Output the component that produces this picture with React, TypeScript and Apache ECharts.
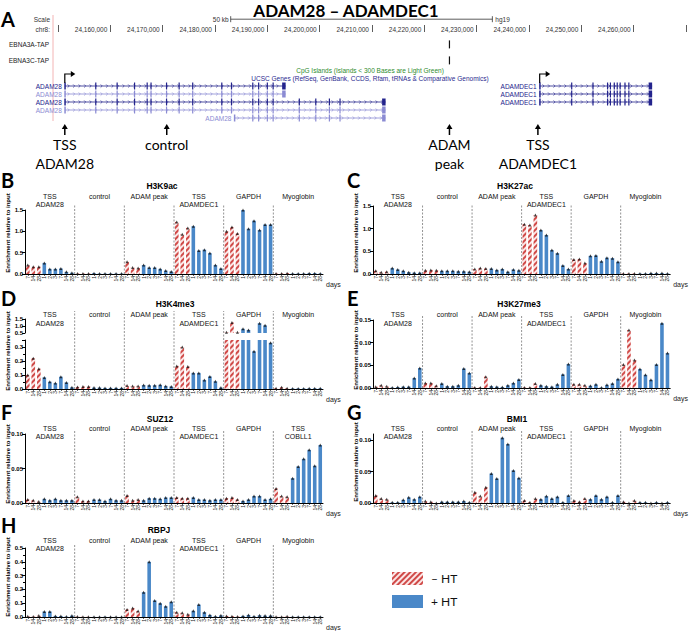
import React, { useEffect, useRef } from 'react';
import * as echarts from 'echarts';

const SANS = '"Liberation Sans", Arial, sans-serif';
const CAL = 'Lato, "Open Sans", sans-serif';

// ---------------- Panel A: genome browser data ----------------
const RULER_MIN = 24150000;
const RULER_MAX = 24270000;
const RULER_STEP = 10000;
const RULER_FIRST_LABEL = 24160000;
const RULER_LAST_LABEL = 24260000;
const SCALE_BAR = [24183000, 24233000];
const SCALE_LABEL = '50 kb';
const ASSEMBLY = 'hg19';
const TRACKS = ['EBNA3A-TAP', 'EBNA3C-TAP'];
const EBNA_PEAKS = [24224800];
const ADAM28_TSS = 24151300;
const ADAM28_ALT_START = 24183700;
const ADAM28_SHORT_END = 24193500;
const ADAM28_LONG_END = 24212600;
const ADAM28_EXONS = [24157220, 24161300, 24164630, 24167040, 24167780, 24170740, 24173150, 24175740, 24181300, 24183150, 24187220, 24188340, 24190000, 24191110];
const ADAM28_EXTRA_EXONS = [24196110, 24199260, 24201860, 24203890];
const ADAMDEC1_TSS = 24242040;
const ADAMDEC1_END = 24263530;
const ADAMDEC1_EXONS = [24248160, 24252230, 24255010, 24255560, 24256300, 24256860, 24257420, 24258340, 24259080];
const TRANSCRIPTS = [
  { name: 'ADAM28', row: 0, start: ADAM28_TSS, end: ADAM28_SHORT_END, strong: true, tss: true },
  { name: 'ADAM28', row: 1, start: ADAM28_TSS, end: ADAM28_SHORT_END, strong: false },
  { name: 'ADAM28', row: 2, start: ADAM28_TSS, end: ADAM28_LONG_END, strong: true },
  { name: 'ADAM28', row: 3, start: ADAM28_TSS, end: ADAM28_LONG_END, strong: false },
  { name: 'ADAM28', row: 4, start: ADAM28_ALT_START, end: ADAM28_LONG_END, strong: false },
  { name: 'ADAMDEC1', row: 0, start: ADAMDEC1_TSS, end: ADAMDEC1_END, strong: true, tss: true },
  { name: 'ADAMDEC1', row: 1, start: ADAMDEC1_TSS, end: ADAMDEC1_END, strong: true },
  { name: 'ADAMDEC1', row: 2, start: ADAMDEC1_TSS, end: ADAMDEC1_END, strong: true },
];
const LANDMARKS = [
  { pos: 24151300, label: 'TSS\nADAM28' },
  { pos: 24170780, label: 'control' },
  { pos: 24224800, label: 'ADAM\npeak' },
  { pos: 24241700, label: 'TSS\nADAMDEC1' },
];

// ---------------- Panels B–H: ChIP data ----------------
const GROUPS = ['TSS\nADAM28', 'control', 'ADAM peak', 'TSS\nADAMDEC1', 'GAPDH', 'Myoglobin'];
const GROUPS_SUZ12 = ['TSS\nADAM28', 'control', 'ADAM peak', 'TSS\nADAMDEC1', 'GAPDH', 'TSS\nCOBLL1'];
const DAYS = ['7', '14', '28', '1', '2', '3', '7', '14', '28'];
const MINUS_HT_COUNT = 3;
const CATEGORY_LABELS = GROUPS.flatMap(() => DAYS);

const H3K9ac = [
  0.21, 0.17, 0.17, 0.26, 0.12, 0.12, 0.13, 0.05, 0.03,
  0.01, 0.01, 0.01, 0.02, 0.01, 0.01, 0.01, 0.01, 0.01,
  0.29, 0.15, 0.14, 0.21, 0.15, 0.15, 0.12, 0.08, 0.06,
  1.22, 0.93, 1.08, 1.12, 0.55, 0.57, 0.49, 0.21, 0.13,
  1.00, 1.10, 0.95, 1.50, 1.06, 1.25, 1.03, 1.16, 1.16,
  0.01, 0.01, 0.02, 0.01, 0.01, 0.01, 0.02, 0.02, 0.01,
];
const H3K27ac = [
  0.07, 0.04, 0.05, 0.13, 0.10, 0.07, 0.04, 0.03, 0.03,
  0.08, 0.09, 0.08, 0.07, 0.07, 0.07, 0.06, 0.06, 0.05,
  0.11, 0.13, 0.12, 0.12, 0.09, 0.11, 0.05, 0.10, 0.08,
  1.10, 1.08, 1.30, 0.97, 0.86, 0.53, 0.46, 0.19, 0.11,
  0.32, 0.33, 0.24, 0.40, 0.41, 0.28, 0.36, 0.35, 0.27,
  0.01, 0.01, 0.01, 0.01, 0.01, 0.02, 0.02, 0.02, 0.01,
];
const H3K4me3 = [
  0.10, 0.22, 0.145, 0.083, 0.052, 0.042, 0.088, 0.047, 0.012,
  0.015, 0.018, 0.018, 0.010, 0.010, 0.008, 0.008, 0.008, 0.008,
  0.025, 0.022, 0.022, 0.028, 0.027, 0.027, 0.030, 0.022, 0.018,
  0.165, 0.30, 0.16, 0.115, 0.115, 0.065, 0.09, 0.055, 0.01,
  0.55, 1.25, 0.55, 0.80, 0.72, 0.27, 1.20, 1.05, 0.33,
  0.005, 0.012, 0.005, 0.004, 0.004, 0.004, 0.005, 0.005, 0.005,
];
const H3K27me3 = [
  0.003, 0.006, 0.004, 0.001, 0.002, 0.003, 0.003, 0.022, 0.044,
  0.011, 0.011, 0.005, 0.010, 0.004, 0.004, 0.006, 0.043, 0.033,
  0.001, 0.001, 0.025, 0.004, 0.003, 0.002, 0.006, 0.011, 0.019,
  0.001, 0.001, 0.010, 0.006, 0.004, 0.003, 0.008, 0.030, 0.053,
  0.008, 0.008, 0.006, 0.005, 0.008, 0.001, 0.007, 0.010, 0.020,
  0.052, 0.128, 0.062, 0.042, 0.029, 0.018, 0.052, 0.143, 0.077,
];
const SUZ12 = [
  0.005, 0.004, 0.002, 0.006, 0.004, 0.006, 0.004, 0.004, 0.004,
  0.009, 0.003, 0.003, 0.005, 0.005, 0.003, 0.006, 0.004, 0.004,
  0.011, 0.004, 0.005, 0.004, 0.007, 0.007, 0.006, 0.008, 0.008,
  0.008, 0.007, 0.007, 0.008, 0.005, 0.005, 0.004, 0.005, 0.005,
  0.007, 0.008, 0.005, 0.003, 0.005, 0.010, 0.010, 0.005, 0.006,
  0.021, 0.010, 0.009, 0.036, 0.053, 0.064, 0.077, 0.054, 0.084,
];
const BMI1 = [
  0.012, 0.007, 0.006, 0.001, 0.001, 0.005, 0.009, 0.006, 0.010,
  0.003, 0.002, 0.000, 0.002, 0.002, 0.002, 0.002, 0.003, 0.001,
  0.017, 0.011, 0.025, 0.047, 0.039, 0.104, 0.094, 0.052, 0.040,
  0.004, 0.001, 0.007, 0.006, 0.011, 0.007, 0.010, 0.001, 0.012,
  0.004, 0.002, 0.007, 0.006, 0.012, 0.006, 0.010, 0.001, 0.012,
  0.002, 0.000, 0.004, 0.001, 0.001, 0.000, 0.001, 0.000, 0.001,
];
const RBPJ = [
  0.005, 0.004, 0.010, 0.040, 0.040, 0.008, 0.007, 0.003, 0.010,
  0.004, 0.002, 0.002, 0.001, 0.001, 0.002, 0.001, 0.001, 0.001,
  0.055, 0.065, 0.043, 0.18, 0.40, 0.12, 0.10, 0.078, 0.11,
  0.035, 0.030, 0.020, 0.045, 0.090, 0.035, 0.015, 0.005, 0.012,
  0.008, 0.006, 0.003, 0.008, 0.015, 0.005, 0.012, 0.010, 0.010,
  0.002, 0.002, 0.005, 0.002, 0.002, 0.002, 0.002, 0.002, 0.002,
];

const COLS = [{ left: 25, width: 298 }, { left: 373, width: 298 }];
const PANELS: any[] = [
  { letter: 'B', title: 'H3K9ac', values: H3K9ac, groups: GROUPS, col: 0, top: 210, bottom: 274, max: 1.5, interval: 0.5, digits: 1, letterY: 180, titleX: 162, titleY: 186, labelTop: 192, lh: 8, sepTop: 204, nameY: 233 },
  { letter: 'C', title: 'H3K27ac', values: H3K27ac, groups: GROUPS, col: 1, top: 206, bottom: 274, max: 1.5, interval: 0.5, digits: 1, letterY: 180, titleX: 515, titleY: 186, labelTop: 192, lh: 8, sepTop: 204, nameY: 233 },
  { letter: 'D', title: 'H3K4me3', values: H3K4me3, groups: GROUPS, col: 0, top: 340, bottom: 389, max: 0.35, interval: 0.1, digits: 1, hideMax: true, minor: true, upper: { top: 319, bottom: 333, min: 0.5, max: 1.5, interval: 0.5 }, letterY: 298, titleX: 175, titleY: 304, labelTop: 310, lh: 9, sepTop: 311, nameY: 351 },
  { letter: 'E', title: 'H3K27me3', values: H3K27me3, groups: GROUPS, col: 1, top: 320, bottom: 388, max: 0.15, interval: 0.05, digits: 2, letterY: 298, titleX: 519, titleY: 304, labelTop: 310, lh: 9, sepTop: 316, nameY: 350 },
  { letter: 'F', title: 'SUZ12', values: SUZ12, groups: GROUPS_SUZ12, col: 0, top: 434, bottom: 503, max: 0.1, interval: 0.05, digits: 2, letterY: 412, titleX: 160, titleY: 419, labelTop: 425, lh: 7.5, sepTop: 430, nameY: 464 },
  { letter: 'G', title: 'BMI1', values: BMI1, groups: GROUPS, col: 1, top: 434, bottom: 503, max: 0.11, interval: 0.05, digits: 2, hideMax: true, letterY: 412, titleX: 517, titleY: 419, labelTop: 425, lh: 7.5, sepTop: 430, nameY: 462 },
  { letter: 'H', title: 'RBPJ', values: RBPJ, groups: GROUPS, col: 0, top: 548, bottom: 618, max: 0.5, interval: 0.1, digits: 1, minor: true, letterY: 525, titleX: 159, titleY: 530, labelTop: 537, lh: 7.5, sepTop: 545, nameY: 577 },
];

const HATCH = { symbol: 'rect', symbolSize: 1, dashArrayX: [1, 0], dashArrayY: [1.6, 1.6], rotation: -Math.PI / 4, color: '#d04a48' };
const RED_BG = '#fbe6e6';
const BLUE = '#4a88c8';

const GENE_ROW0 = 6.75;
const TRACK_ROW0 = 1.55;

function buildOption() {
  const grids: any[] = [];
  const xAxes: any[] = [];
  const yAxes: any[] = [];
  const series: any[] = [];
  const graphics: any[] = [];

  // ---- Panel A grid ----
  grids.push({ left: 58, top: 32, width: 648, height: 88 });
  xAxes.push({
    gridIndex: 0, type: 'value', min: RULER_MIN, max: RULER_MAX, interval: RULER_STEP, position: 'top',
    axisLine: { show: false },
    axisTick: { show: true, length: 7, lineStyle: { color: '#333', width: 0.8 } },
    axisLabel: {
      fontSize: 6.5, color: '#333', fontFamily: SANS, align: 'right', verticalAlign: 'middle', margin: 3, padding: [0, 3, 0, 0],
      formatter: (v: number) => (v >= RULER_FIRST_LABEL && v <= RULER_LAST_LABEL ? v.toLocaleString('en-US') : ''),
    },
    splitLine: { show: false },
  });
  yAxes.push({ gridIndex: 0, type: 'value', min: 0, max: 11, inverse: true, show: false });

  const allExons = [...ADAM28_EXONS, ...ADAM28_EXTRA_EXONS, ...ADAMDEC1_EXONS];
  series.push({
    type: 'custom', xAxisIndex: 0, yAxisIndex: 0, silent: true,
    data: TRANSCRIPTS.map((t) => [t.start, t.end]),
    renderItem: (params: any, api: any) => {
      const t: any = TRANSCRIPTS[params.dataIndex];
      const rv = GENE_ROW0 + t.row;
      const p0 = api.coord([t.start, rv]);
      const x0 = p0[0];
      const y = p0[1];
      const x1 = api.coord([t.end, rv])[0];
      const col = t.strong ? '#23238c' : '#8b8bd3';
      const ch: any[] = [];
      ch.push({ type: 'line', shape: { x1: x0, y1: y, x2: x1, y2: y }, style: { stroke: col, lineWidth: 0.8 } });
      for (let cx = x0 + 4; cx < x1 - 3; cx += 5.5) {
        ch.push({ type: 'polyline', shape: { points: [[cx - 1.2, y - 1.6], [cx + 0.4, y], [cx - 1.2, y + 1.6]] }, style: { stroke: col, fill: 'none', lineWidth: 0.6 } });
      }
      allExons.filter((e) => e > t.start && e < t.end).forEach((e) => {
        const ex = api.coord([e, rv])[0];
        ch.push({ type: 'rect', shape: { x: ex - 0.6, y: y - 3.5, width: 1.2, height: 7 }, style: { fill: col } });
      });
      ch.push({ type: 'rect', shape: { x: x0 - 0.5, y: y - 3.5, width: 1.5, height: 7 }, style: { fill: col } });
      ch.push({ type: 'rect', shape: { x: x1 - 3.5, y: y - 3.5, width: 3.5, height: 7 }, style: { fill: col } });
      ch.push({ type: 'text', x: x0 - 3, y: y, style: { text: t.name, font: `6.5px ${SANS}`, fill: col, align: 'right', verticalAlign: 'middle' } });
      if (t.tss) {
        ch.push({ type: 'polyline', shape: { points: [[x0, y - 3], [x0, y - 12], [x0 + 7, y - 12]] }, style: { stroke: '#000', fill: 'none', lineWidth: 1.2 } });
        ch.push({ type: 'polygon', shape: { points: [[x0 + 6, y - 15], [x0 + 10.5, y - 12], [x0 + 6, y - 9]] }, style: { fill: '#000' } });
      }
      return { type: 'group', children: ch };
    },
  });
  series.push({
    type: 'custom', xAxisIndex: 0, yAxisIndex: 0, silent: true,
    data: TRACKS.map((_, i) => [RULER_MIN, i]),
    renderItem: (params: any, api: any) => {
      const i = params.dataIndex;
      const rv = TRACK_ROW0 + i * 2;
      const pl = api.coord([RULER_MIN, rv]);
      const ch: any[] = [{ type: 'text', x: pl[0] - 9, y: pl[1], style: { text: TRACKS[i], font: `6.5px ${SANS}`, fill: '#222', align: 'right', verticalAlign: 'middle' } }];
      EBNA_PEAKS.forEach((pk) => {
        const pp = api.coord([pk, rv]);
        ch.push({ type: 'rect', shape: { x: pp[0] - 0.6, y: pp[1] - 4, width: 1.2, height: 8 }, style: { fill: '#111' } });
      });
      return { type: 'group', children: ch };
    },
  });
  series.push({
    type: 'custom', xAxisIndex: 0, yAxisIndex: 0, silent: true,
    data: [SCALE_BAR],
    renderItem: (params: any, api: any) => {
      const a = api.coord([SCALE_BAR[0], -1.6]);
      const b = api.coord([SCALE_BAR[1], -1.6]);
      return {
        type: 'group', children: [
          { type: 'line', shape: { x1: a[0], y1: a[1], x2: b[0], y2: b[1] }, style: { stroke: '#333', lineWidth: 0.8 } },
          { type: 'line', shape: { x1: a[0], y1: a[1] - 3, x2: a[0], y2: a[1] + 3 }, style: { stroke: '#333', lineWidth: 0.8 } },
          { type: 'line', shape: { x1: b[0], y1: b[1] - 3, x2: b[0], y2: b[1] + 3 }, style: { stroke: '#333', lineWidth: 0.8 } },
          { type: 'text', x: a[0] - 2, y: a[1], style: { text: SCALE_LABEL, font: `6.5px ${SANS}`, fill: '#333', align: 'right', verticalAlign: 'middle' } },
          { type: 'text', x: b[0] + 3, y: b[1], style: { text: ASSEMBLY, font: `6.5px ${SANS}`, fill: '#333', align: 'left', verticalAlign: 'middle' } },
        ],
      };
    },
  });
  series.push({
    type: 'custom', xAxisIndex: 0, yAxisIndex: 0, silent: true,
    data: LANDMARKS.map((l) => [l.pos, 11]),
    renderItem: (params: any, api: any) => {
      const l = LANDMARKS[params.dataIndex];
      const p = api.coord([l.pos, 11]);
      const x = p[0];
      const yb = p[1];
      return {
        type: 'group', children: [
          { type: 'line', shape: { x1: x, y1: yb + 8, x2: x, y2: yb + 15 }, style: { stroke: '#000', lineWidth: 1.5 } },
          { type: 'polygon', shape: { points: [[x - 3, yb + 9], [x, yb + 4], [x + 3, yb + 9]] }, style: { fill: '#000' } },
          { type: 'text', x: x, y: yb + 14.5, style: { text: l.label, font: `14px ${CAL}`, lineHeight: 19, fill: '#000', align: 'center', verticalAlign: 'top' } },
        ],
      };
    },
  });

  graphics.push(
    { type: 'text', x: 1, y: 19, style: { text: 'A', font: `bold 20px ${CAL}`, fill: '#000', verticalAlign: 'middle' } },
    { type: 'text', x: 346, y: 2, style: { text: 'ADAM28 – ADAMDEC1', font: `bold 17px ${CAL}`, fill: '#000', align: 'center', verticalAlign: 'top' } },
    { type: 'text', x: 50, y: 19, style: { text: 'Scale', font: `6.5px ${SANS}`, fill: '#333', align: 'right', verticalAlign: 'middle' } },
    { type: 'text', x: 50, y: 29, style: { text: 'chr8:', font: `6.5px ${SANS}`, fill: '#333', align: 'right', verticalAlign: 'middle' } },
    { type: 'line', shape: { x1: 53, y1: 15, x2: 53, y2: 121 }, style: { stroke: '#f3b4b4', lineWidth: 1 } },
    { type: 'text', x: 370, y: 70, style: { text: 'CpG Islands (Islands < 300 Bases are Light Green)', font: `6.5px ${SANS}`, fill: '#2e8b2e', align: 'center', verticalAlign: 'middle' } },
    { type: 'text', x: 370, y: 78, style: { text: 'UCSC Genes (RefSeq, GenBank, CCDS, Rfam, tRNAs & Comparative Genomics)', font: `6.5px ${SANS}`, fill: '#2a2a8f', align: 'center', verticalAlign: 'middle' } },
  );

  const groupStarts = GROUPS.slice(1).map((_, i) => [(i + 1) * DAYS.length]);
  const labelFmt = (digits: number) => (v: number) => v.toFixed(digits);

  PANELS.forEach((p) => {
    const col = COLS[p.col];
    const gi = grids.length;
    grids.push({ left: col.left, top: p.top, width: col.width, height: p.bottom - p.top });
    const xi = xAxes.length;
    xAxes.push({
      gridIndex: gi, type: 'category', data: CATEGORY_LABELS, position: 'bottom',
      axisLine: { lineStyle: { color: '#000', width: 1 } },
      axisTick: { show: true, length: 2, alignWithLabel: true, interval: 0, lineStyle: { color: '#000', width: 0.6 } },
      axisLabel: { interval: 0, rotate: 90, fontSize: 5, margin: 2, color: '#222', fontFamily: SANS },
      splitLine: { show: false },
      name: 'days', nameLocation: 'end', nameGap: 3,
      nameTextStyle: { fontSize: 7, color: '#222', fontFamily: SANS, verticalAlign: 'top', padding: [7, 0, 0, 0] },
    });
    xAxes.push({
      gridIndex: gi, type: 'category', data: p.groups, position: 'top',
      axisLine: { show: false }, axisTick: { show: false }, splitLine: { show: false },
      axisLabel: { interval: 0, fontSize: 7, lineHeight: p.lh, color: '#111', fontFamily: SANS, verticalAlign: 'top', margin: p.top - p.labelTop },
    });
    const yi = yAxes.length;
    const yLabel: any = { fontSize: 6, fontWeight: 'bold', color: '#000', fontFamily: SANS, margin: 2, formatter: labelFmt(p.digits) };
    if (p.hideMax) yLabel.showMaxLabel = false;
    yAxes.push({
      gridIndex: gi, type: 'value', min: 0, max: p.max, interval: p.interval,
      axisLine: { show: true, lineStyle: { color: '#000', width: 1 } },
      axisTick: { show: true, length: 3, lineStyle: { color: '#000' } },
      minorTick: { show: !!p.minor, splitNumber: 2, length: 2, lineStyle: { color: '#000' } },
      splitLine: { show: false },
      axisLabel: yLabel,
    });
    const minus = p.values.map((v: number, i: number) => (i % DAYS.length < MINUS_HT_COUNT ? v : '-'));
    const plus = p.values.map((v: number, i: number) => (i % DAYS.length >= MINUS_HT_COUNT ? v : '-'));
    series.push({ type: 'bar', name: '– HT', xAxisIndex: xi, yAxisIndex: yi, data: minus, barWidth: 3.6, barGap: '-100%', itemStyle: { color: RED_BG, decal: HATCH }, silent: true, z: 2 });
    series.push({ type: 'bar', name: '+ HT', xAxisIndex: xi, yAxisIndex: yi, data: plus, barWidth: 3.6, barGap: '-100%', itemStyle: { color: BLUE }, silent: true, z: 2 });
    series.push({ type: 'scatter', xAxisIndex: xi, yAxisIndex: yi, data: p.values.map((v: number) => (v <= p.max ? v : '-')), symbol: 'triangle', symbolSize: [3, 3], itemStyle: { color: '#111' }, silent: true, z: 3 });
    const sepTop = p.sepTop;
    series.push({
      type: 'custom', xAxisIndex: xi, yAxisIndex: yi, data: groupStarts, silent: true, z: 1,
      renderItem: (params: any, api: any) => {
        const start = api.value(0);
        const band = api.size([1, 0])[0];
        const pt = api.coord([start, 0]);
        const x = pt[0] - band / 2;
        return { type: 'line', shape: { x1: x, y1: pt[1], x2: x, y2: sepTop }, style: { stroke: '#777', lineWidth: 0.8, lineDash: [2, 1.5] } };
      },
    });
    if (p.upper) {
      const u = p.upper;
      const ug = grids.length;
      grids.push({ left: col.left, top: u.top, width: col.width, height: u.bottom - u.top });
      const ux = xAxes.length;
      xAxes.push({ gridIndex: ug, type: 'category', data: CATEGORY_LABELS, show: false });
      const uy = yAxes.length;
      yAxes.push({
        gridIndex: ug, type: 'value', min: u.min, max: u.max, interval: u.interval,
        axisLine: { show: true, lineStyle: { color: '#000', width: 1 } },
        axisTick: { show: true, length: 3, lineStyle: { color: '#000' } },
        splitLine: { show: false },
        axisLabel: { fontSize: 6, fontWeight: 'bold', color: '#000', fontFamily: SANS, margin: 2, formatter: labelFmt(1) },
      });
      const um = minus.map((v: any) => (v !== '-' && v >= u.min ? v : '-'));
      const up = plus.map((v: any) => (v !== '-' && v >= u.min ? v : '-'));
      series.push({ type: 'bar', name: '– HT', xAxisIndex: ux, yAxisIndex: uy, data: um, barWidth: 3.6, barGap: '-100%', itemStyle: { color: RED_BG, decal: HATCH }, silent: true, z: 2 });
      series.push({ type: 'bar', name: '+ HT', xAxisIndex: ux, yAxisIndex: uy, data: up, barWidth: 3.6, barGap: '-100%', itemStyle: { color: BLUE }, silent: true, z: 2 });
      series.push({ type: 'scatter', xAxisIndex: ux, yAxisIndex: uy, data: p.values.map((v: number) => (v >= u.min ? v : '-')), symbol: 'triangle', symbolSize: [3, 3], itemStyle: { color: '#111' }, silent: true, z: 3 });
    }
    graphics.push(
      { type: 'text', x: p.col === 0 ? 1 : 347, y: p.letterY, style: { text: p.letter, font: `bold 20px ${CAL}`, fill: '#000', verticalAlign: 'middle' } },
      { type: 'text', x: p.titleX, y: p.titleY, style: { text: p.title, font: `bold 8.5px ${SANS}`, fill: '#000', align: 'center', verticalAlign: 'middle' } },
      { type: 'text', x: col.left - 17, y: p.nameY, rotation: Math.PI / 2, style: { text: 'Enrichment relative to input', font: `bold 6px ${SANS}`, fill: '#000', align: 'center', verticalAlign: 'middle' } },
    );
  });

  return {
    animation: false,
    textStyle: { fontFamily: SANS },
    grid: grids,
    xAxis: xAxes,
    yAxis: yAxes,
    series,
    graphic: graphics,
    legend: {
      data: ['– HT', '+ HT'], orient: 'vertical', left: 387, top: 567, itemWidth: 31, itemHeight: 13, itemGap: 10,
      icon: 'rect', selectedMode: false,
      textStyle: { fontSize: 12, fontFamily: CAL, color: '#111', padding: [0, 0, 0, 3] },
    },
  };
}

export default function App() {
  const ref = useRef<HTMLDivElement>(null);
  useEffect(() => {
    document.body.style.margin = '0';
    if (!ref.current) return;
    const chart = echarts.init(ref.current, undefined, { renderer: 'svg' });
    chart.setOption(buildOption() as any);
    return () => chart.dispose();
  }, []);
  return <div ref={ref} style={{ width: 689, height: 631, background: '#fff' }} />;
}
